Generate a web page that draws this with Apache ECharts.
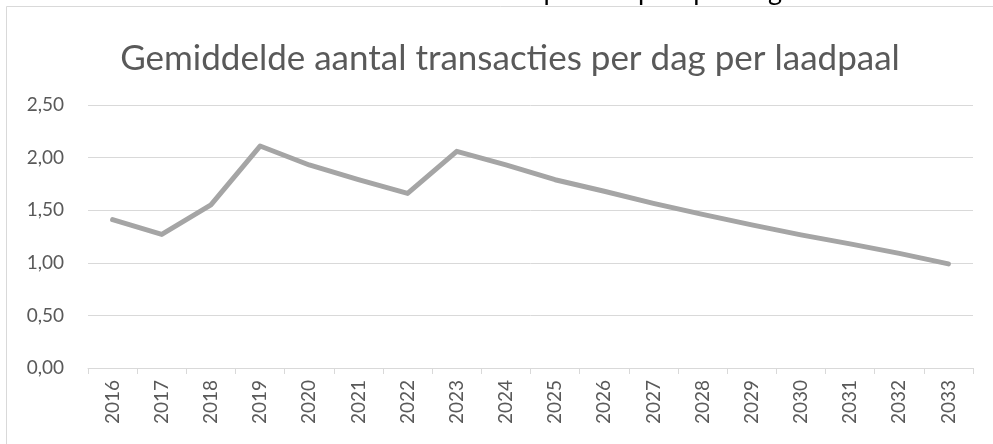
<!DOCTYPE html>
<html>
<head>
<meta charset="utf-8">
<script src="https://cdn.jsdelivr.net/npm/echarts@6/dist/echarts.min.js"></script>
<style>
  html, body { margin: 0; padding: 0; background: #fff; }
  #chart { width: 993px; height: 444px; }
</style>
</head>
<body>
<div id="chart"></div>
<script>
// Average number of charging transactions per day per charge point
const years = ['2016', '2017', '2018', '2019', '2020', '2021', '2022', '2023', '2024',
  '2025', '2026', '2027', '2028', '2029', '2030', '2031', '2032', '2033'];
const transactionsPerDay = [1.41, 1.27, 1.55, 2.11, 1.93, 1.79, 1.66, 2.06, 1.93,
  1.79, 1.68, 1.565, 1.46, 1.36, 1.265, 1.18, 1.09, 0.99];
const yTicks = { min: 0, max: 2.5, interval: 0.5 };

const FONT = 'Lato';
const chart = echarts.init(document.getElementById('chart'), null, { renderer: 'canvas' });

chart.setOption({
  backgroundColor: '#ffffff',
  animation: false,
  title: {
    text: 'Gemiddelde aantal transacties per dag per laadpaal',
    left: 505,
    top: 36,
    textAlign: 'center',
    textStyle: { fontFamily: FONT, fontSize: 35, fontWeight: 'normal', color: '#595959' }
  },
  graphic: [
    {
      // bottom of the heading of the previous chart on the page
      type: 'text',
      x: 782,
      y: 5,
      style: {
        text: 'Gemiddelde aantal transacties per laadpaal per dag',
        fontFamily: FONT,
        fontSize: 27,
        fill: '#000000',
        align: 'right',
        verticalAlign: 'bottom'
      },
      silent: true
    },
    {
      type: 'rect',
      shape: { x: 6.5, y: 6.5, width: 1200, height: 1000 },
      style: { fill: 'none', stroke: '#d9d9d9', lineWidth: 1 },
      silent: true
    }
  ],
  grid: { left: 88, right: 20, top: 105, bottom: 76, containLabel: false },
  xAxis: {
    type: 'category',
    data: years,
    boundaryGap: true,
    axisLine: { lineStyle: { color: '#d9d9d9', width: 1 } },
    axisTick: { show: true, length: 6, lineStyle: { color: '#d9d9d9' } },
    axisLabel: {
      rotate: 90,
      margin: 12,
      fontFamily: FONT,
      fontSize: 19,
      color: '#595959',
      interval: 0
    },
    splitLine: { show: false }
  },
  yAxis: {
    type: 'value',
    min: yTicks.min,
    max: yTicks.max,
    interval: yTicks.interval,
    axisLine: { show: false },
    axisTick: { show: false },
    axisLabel: {
      margin: 24,
      fontFamily: FONT,
      fontSize: 19,
      color: '#595959',
      formatter: v => v.toFixed(2).replace('.', ',')
    },
    splitLine: { lineStyle: { color: '#d9d9d9', width: 1 } }
  },
  series: [{
    type: 'line',
    data: transactionsPerDay,
    symbol: 'none',
    lineStyle: { color: '#a5a5a5', width: 5, cap: 'round', join: 'round' },
    z: 3
  }]
});
</script>
</body>
</html>
